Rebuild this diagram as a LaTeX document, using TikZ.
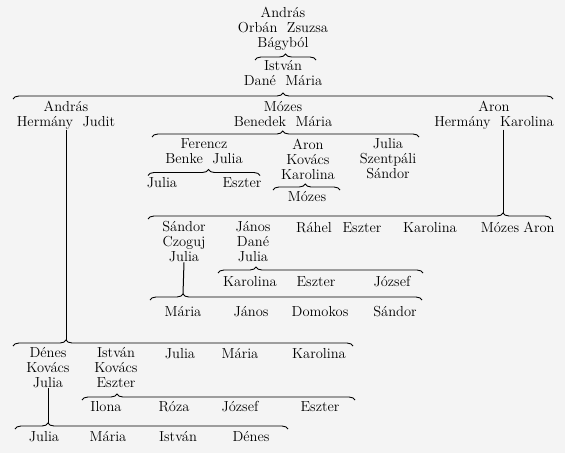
\documentclass[tikz,border=0pt]{standalone}
\usepackage{tikz}
\usetikzlibrary{decorations.pathreplacing}
\definecolor{paper}{RGB}{244,244,244}

\begin{document}
\begin{tikzpicture}[x=1pt, y=-1pt,
	every node/.style={font=\fontsize{14.5}{15}\selectfont, inner sep=0pt, anchor=north, align=center, execute at begin node={\rule{0pt}{11pt}}},
	family/.style={decorate, decoration={brace, amplitude=6pt, aspect=#1}, line width=0.9pt},
	family/.default=0.5,
	stem/.style={line width=1pt}]
	\fill[paper] (0,0) rectangle (565,453);
	\useasboundingbox (0,0) rectangle (565,453);

	\node (andrasO) at (283,6.5) {András\\Orbán~ Zsuzsa\\Bágyból};
	\draw[family] (255,60) -- (316,60);
	\node (istvanD) at (283,60.5) {István\\Dané~ Mária};
	\draw[family] (13,99) -- (553,99);

	\node (andrasH) at (66,101) {András\\Hermány~~Judit};
	\node (mozesB) at (283,101) {Mózes\\Benedek~ Mária};
	\node (aronH) at (494,101) {Aron\\Hermány~ Karolina};
	\draw[family=0.49] (152,137) -- (419,137);

	\node (ferencz) at (204,138.5) {Ferencz\\Benke~~Julia};
	\node (aronK) at (308,138.5) {Aron\\Kovács\\Karolina};
	\node (juliaS) at (388,138.5) {Julia\\Szentpáli\\Sándor};
	\draw[family=0.54] (148,175.5) -- (260,175.5);
	\node (juliaF) at (162,176.5) {Julia};
	\node (eszterF) at (242,176.5) {Eszter};
	\draw[family=0.48] (273,190) -- (340,190);
	\node (mozesK) at (307,190.5) {Mózes};

	\coordinate (aronTip) at (503,213);
	\draw[family=0.881] (148,219) -- (551,219);
	\draw[stem] (aronTip |- aronH.south) -- (aronTip);
	\node (sandorC) at (184,221.5) {Sándor\\Czoguj\\Julia};
	\node (janosD) at (253,221.5) {János\\Dané\\Julia};
	\node (rahel) at (314,221.5) {Ráhel};
	\node (eszterH) at (362,221.5) {Eszter};
	\node (karolinaH) at (430,221.5) {Karolina};
	\node (mozesH) at (500,221.5) {Mózes};
	\node (aronHH) at (539,221.5) {Aron};

	\draw[family=0.185] (218,273) -- (423,273);
	\node (karolinaD) at (250,275.5) {Karolina};
	\node (eszterD) at (316,275.5) {Eszter};
	\node (jozsefD) at (392,275.5) {József};

	\coordinate (sandorTip) at (183,294);
	\draw[family=0.121] (150,300) -- (422,300);
	\draw[stem] (sandorC.south) -- (sandorTip);
	\node (mariaC) at (183,305.5) {Mária};
	\node (janosC) at (251,305.5) {János};
	\node (domokos) at (320,305.5) {Domokos};
	\node (sandorCC) at (395,305.5) {Sándor};

	\coordinate (andrasTip) at (66,340);
	\draw[family=0.156] (13,346) -- (353,346);
	\draw[stem] (andrasH.south) -- (andrasTip);
	\node (denesK) at (48,347.5) {Dénes\\Kovács\\Julia};
	\node (istvanK) at (116,347.5) {István\\Kovács\\Eszter};
	\node (juliaH) at (180,347.5) {Julia};
	\node (mariaH) at (240,347.5) {Mária};
	\node (karolinaA) at (319,347.5) {Karolina};

	\draw[family=0.128] (82,400) -- (355,400);
	\node (ilona) at (106,400.5) {Ilona};
	\node (roza) at (174,400.5) {Róza};
	\node (jozsefK) at (240,400.5) {József};
	\node (eszterK) at (320,400.5) {Eszter};

	\coordinate (denesTip) at (48,423);
	\draw[family=0.121] (15,429) -- (288,429);
	\draw[stem] (denesK.south) -- (denesTip);
	\node (juliaK) at (44,430.5) {Julia};
	\node (mariaK) at (108,430.5) {Mária};
	\node (istvanKK) at (178,430.5) {István};
	\node (denesKK) at (251,430.5) {Dénes};
\end{tikzpicture}
\end{document}
